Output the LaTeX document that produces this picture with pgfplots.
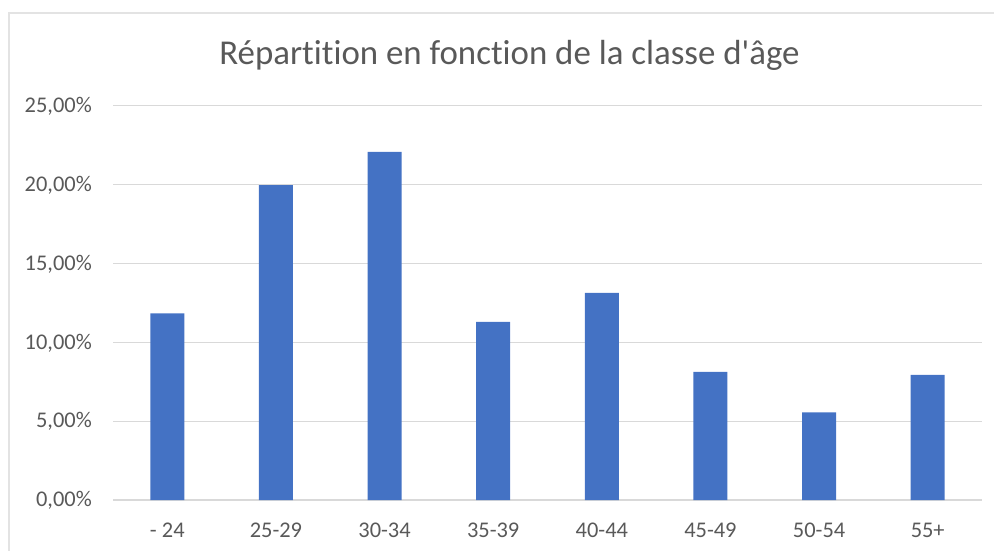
\documentclass[border=0pt]{standalone}
\usepackage{pgfplots}
\pgfplotsset{compat=1.18}
\usepackage{fontspec}
\setmainfont{Carlito}[Ligatures={TeXOff,NoCommon}]
\definecolor{barblue}{HTML}{4472C4}
\definecolor{gridgray}{HTML}{D9D9D9}
\definecolor{framegray}{HTML}{E3E3E3}
\definecolor{textgray}{HTML}{595959}
\begin{document}
\begin{tikzpicture}
\useasboundingbox (0,0) rectangle (994bp,551bp);
\clip (0,0) rectangle (994bp,551bp);
\draw[framegray, line width=2bp] (9bp,-10bp) -- (9bp,538bp) -- (1010bp,538bp);
\node[anchor=base, text=textgray, font=\fontsize{35}{42}\selectfont] at (509.5bp,486bp) {Répartition en fonction de la classe d'âge};
\begin{axis}[
  at={(113bp,51bp)}, anchor=south west,
  scale only axis, width=869bp, height=394.3bp,
  xmin=-0.5, xmax=7.5, ymin=0, ymax=25,
  ytick={0,5,10,15,20,25},
  yticklabels={{0,00\%},{5,00\%},{10,00\%},{15,00\%},{20,00\%},{25,00\%}},
  xtick={0,...,7},
  xticklabels={{- 24},{25-29},{30-34},{35-39},{40-44},{45-49},{50-54},{55+}},
  ymajorgrids, grid style={gridgray, line width=1.2bp},
  axis line style={draw=none},
  major tick length=0pt,
  tick label style={font=\fontsize{22.5}{26}\selectfont, text=textgray},
  yticklabel style={anchor=base east, inner sep=0pt, xshift=-21bp, yshift=-6.8bp},
  xticklabel style={anchor=base, inner sep=0pt, yshift=-37bp},
  /pgf/number format/assume math mode=true,
  clip=false,
]
\addplot[ybar, bar width=34bp, fill=barblue, draw=none] coordinates {
  (0,11.84) (1,19.97) (2,22.07) (3,11.29) (4,13.13) (5,8.12) (6,5.56) (7,7.93)
};
\end{axis}
\end{tikzpicture}
\end{document}
